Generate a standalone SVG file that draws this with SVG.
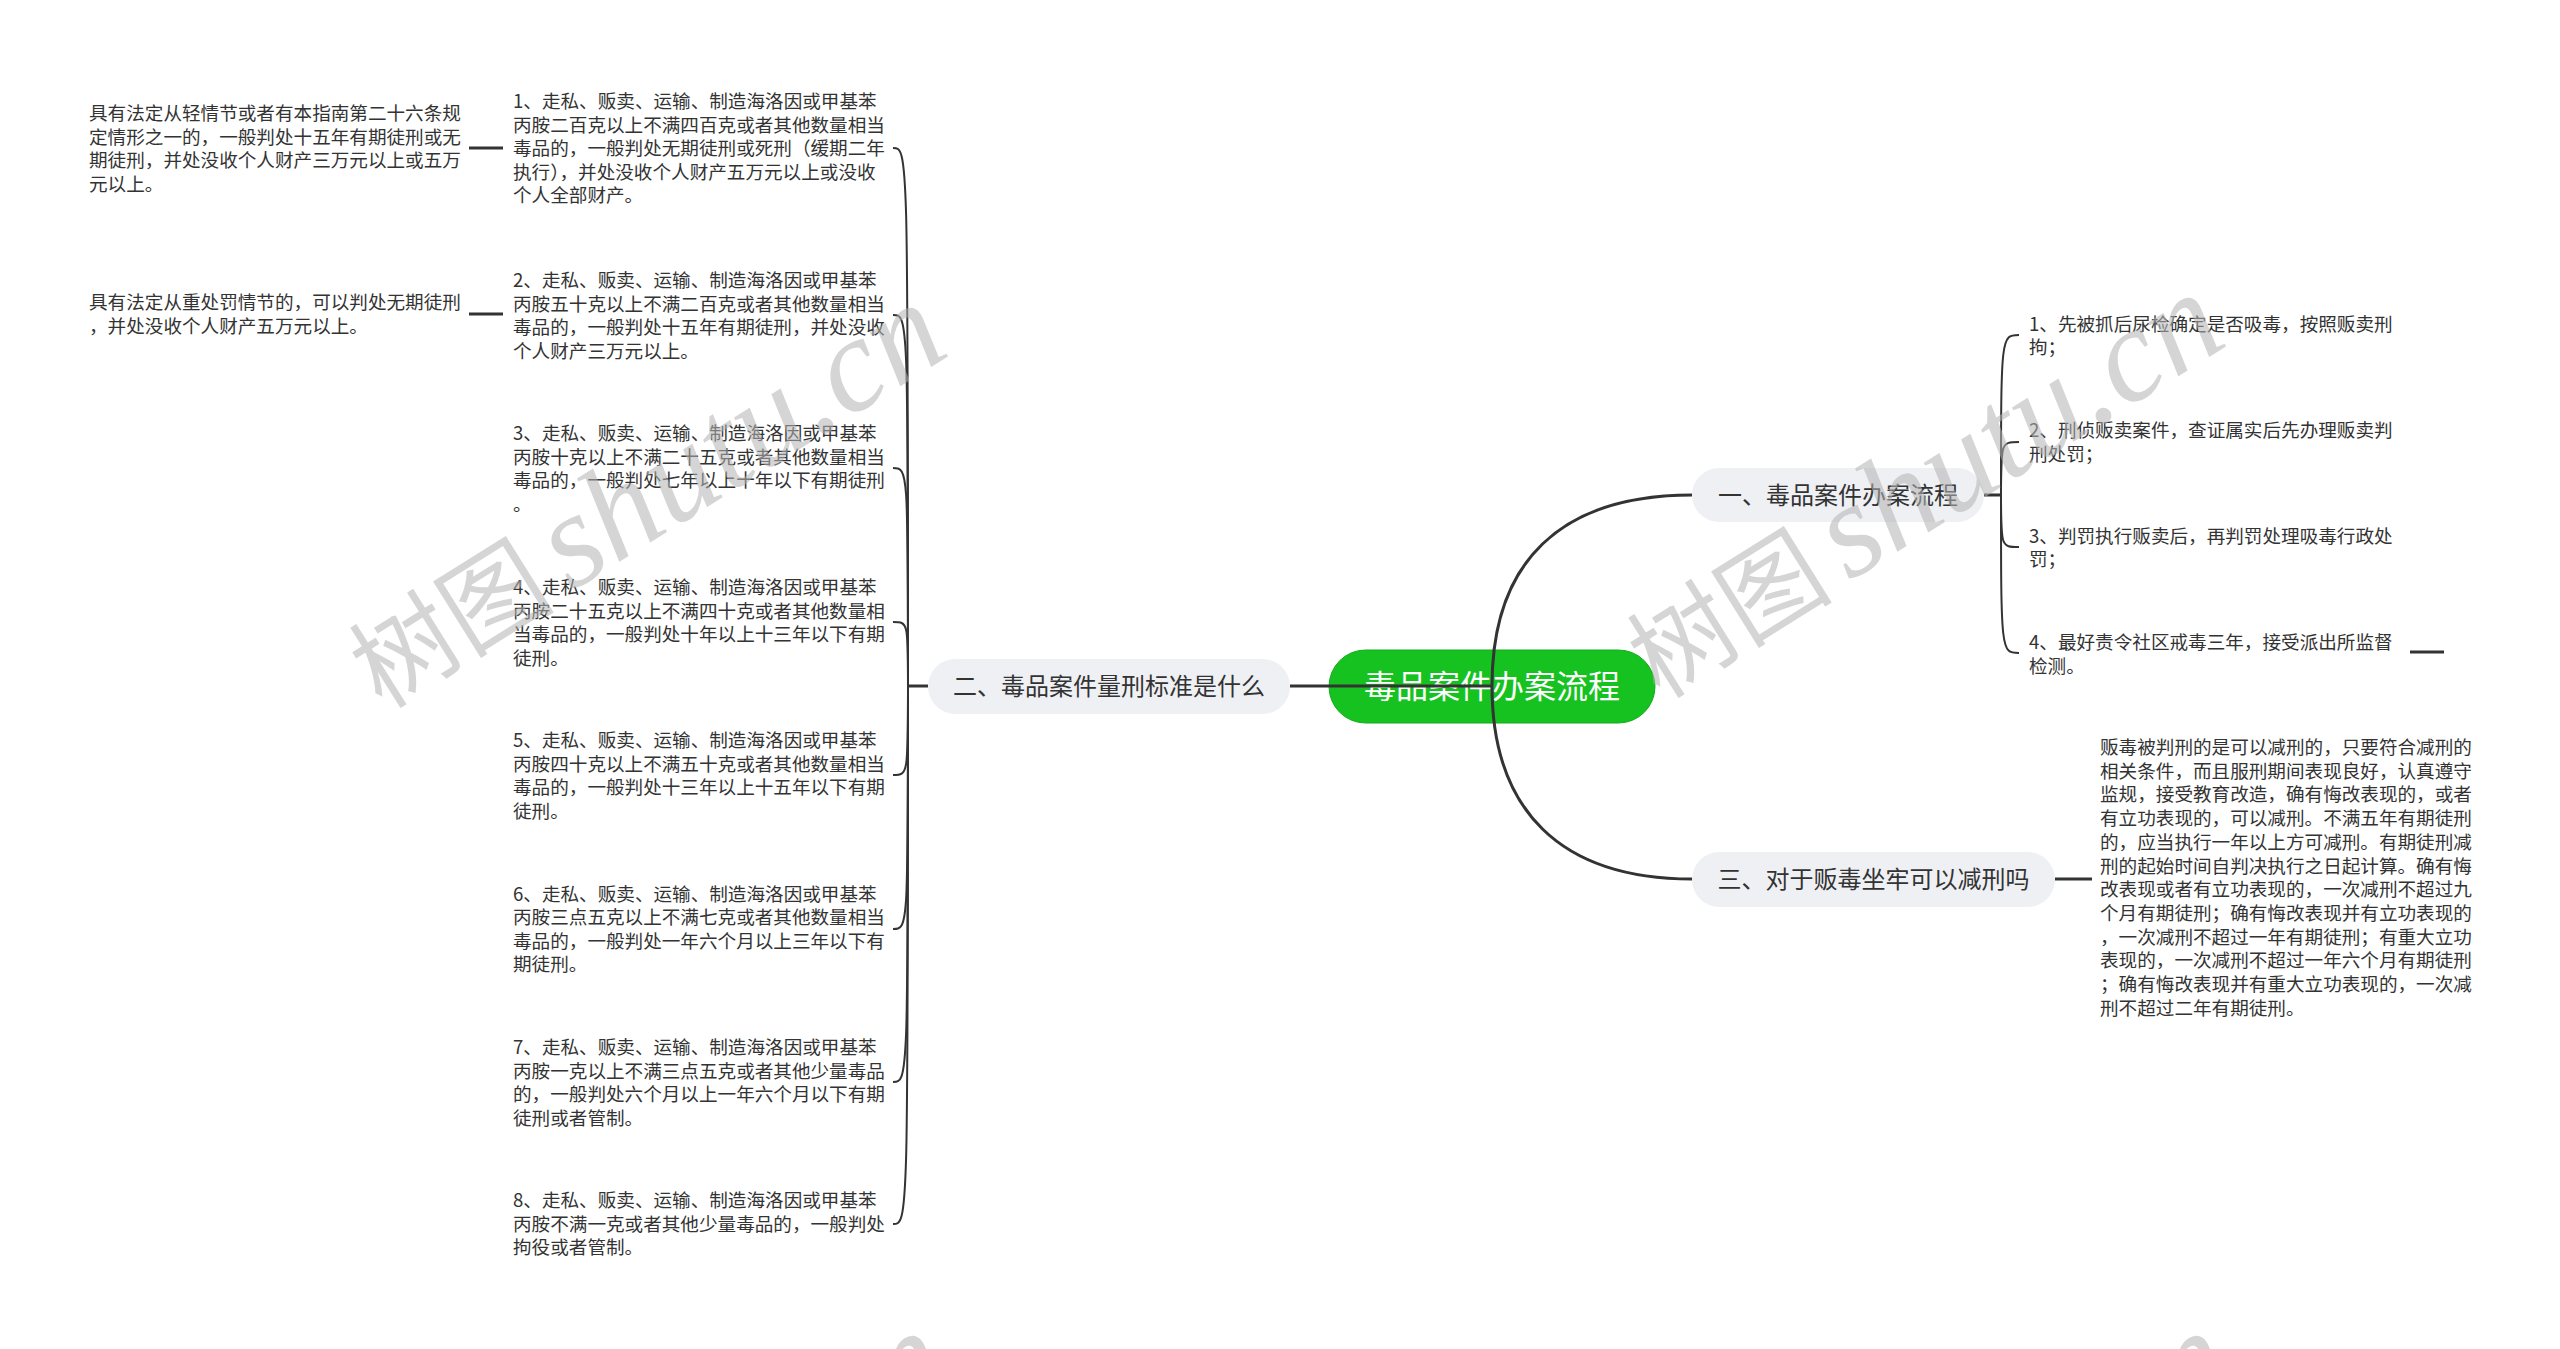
<svg xmlns="http://www.w3.org/2000/svg" width="2560" height="1349" viewBox="0 0 2560 1349">
<style>
text{font-family:"Noto Sans CJK SC","Noto Sans",sans-serif;fill:#333}
.t{font-size:18.6px}
.n{font-size:24px}
.r{font-size:32px;fill:#ffffff}
.sub{fill:#eef0f3}
.c{fill:none;stroke:#333;stroke-width:2}
.s{fill:none;stroke:#333;stroke-width:3}
.wm{fill:#b4b4b4;opacity:0.55}
.wm1{font-family:"Noto Sans CJK SC",sans-serif;font-size:103px}
.wm2{font-family:"Liberation Serif",serif;font-style:italic;font-size:134px}
</style>
<defs>
<g id="wmark"><text class="wm"><tspan class="wm1">树图</tspan><tspan class="wm2" dx="17">shutu.cn</tspan></text></g>
</defs>
<rect width="2560" height="1349" fill="#ffffff"/>

<g id="root">
<rect x="1329" y="650" width="326" height="73" rx="36.5" fill="#16c21f" stroke="#13ad1c" stroke-width="1"/>
<text class="r" x="1492" y="698" text-anchor="middle">毒品案件办案流程</text>
</g>

<g id="n1">
<rect class="sub" x="1692" y="468" width="292" height="54" rx="27"/>
<text class="n" x="1838" y="504" text-anchor="middle">一、毒品案件办案流程</text>
</g>
<g id="n2">
<rect class="sub" x="928" y="659" width="362" height="55" rx="27.5"/>
<text class="n" x="1109" y="695" text-anchor="middle">二、毒品案件量刑标准是什么</text>
</g>
<g id="n3">
<rect class="sub" x="1692" y="852" width="363" height="55" rx="27.5"/>
<text class="n" x="1873.5" y="888" text-anchor="middle">三、对于贩毒坐牢可以减刑吗</text>
</g>

<g id="n1-1"><text class="t" x="2029" y="330.5">1、先被抓后尿检确定是否吸毒，按照贩卖刑<tspan x="2029" dy="23.5">拘；</tspan></text></g>
<g id="n1-2"><text class="t" x="2029" y="437">2、刑侦贩卖案件，查证属实后先办理贩卖判<tspan x="2029" dy="23.5">刑处罚；</tspan></text></g>
<g id="n1-3"><text class="t" x="2029" y="542.5">3、判罚执行贩卖后，再判罚处理吸毒行政处<tspan x="2029" dy="23.5">罚；</tspan></text></g>
<g id="n1-4"><text class="t" x="2029" y="649">4、最好责令社区戒毒三年，接受派出所监督<tspan x="2029" dy="23.5">检测。</tspan></text></g>

<g id="n3-1"><text class="t" x="2100" y="754">贩毒被判刑的是可以减刑的，只要符合减刑的<tspan x="2100" dy="23.7">相关条件，而且服刑期间表现良好，认真遵守</tspan><tspan x="2100" dy="23.7">监规，接受教育改造，确有悔改表现的，或者</tspan><tspan x="2100" dy="23.7">有立功表现的，可以减刑。不满五年有期徒刑</tspan><tspan x="2100" dy="23.7">的，应当执行一年以上方可减刑。有期徒刑减</tspan><tspan x="2100" dy="23.7">刑的起始时间自判决执行之日起计算。确有悔</tspan><tspan x="2100" dy="23.7">改表现或者有立功表现的，一次减刑不超过九</tspan><tspan x="2100" dy="23.7">个月有期徒刑；确有悔改表现并有立功表现的</tspan><tspan x="2100" dy="23.7">，一次减刑不超过一年有期徒刑；有重大立功</tspan><tspan x="2100" dy="23.7">表现的，一次减刑不超过一年六个月有期徒刑</tspan><tspan x="2100" dy="23.7">；确有悔改表现并有重大立功表现的，一次减</tspan><tspan x="2100" dy="23.7">刑不超过二年有期徒刑。</tspan></text></g>

<g id="n2-1"><text class="t" x="513" y="108">1、走私、贩卖、运输、制造海洛因或甲基苯<tspan x="513" dy="23.5">丙胺二百克以上不满四百克或者其他数量相当</tspan><tspan x="513" dy="23.5">毒品的，一般判处无期徒刑或死刑（缓期二年</tspan><tspan x="513" dy="23.5">执行），并处没收个人财产五万元以上或没收</tspan><tspan x="513" dy="23.5">个人全部财产。</tspan></text></g>
<g id="n2-2"><text class="t" x="513" y="287">2、走私、贩卖、运输、制造海洛因或甲基苯<tspan x="513" dy="23.5">丙胺五十克以上不满二百克或者其他数量相当</tspan><tspan x="513" dy="23.5">毒品的，一般判处十五年有期徒刑，并处没收</tspan><tspan x="513" dy="23.5">个人财产三万元以上。</tspan></text></g>
<g id="n2-3"><text class="t" x="513" y="440">3、走私、贩卖、运输、制造海洛因或甲基苯<tspan x="513" dy="23.5">丙胺十克以上不满二十五克或者其他数量相当</tspan><tspan x="513" dy="23.5">毒品的，一般判处七年以上十年以下有期徒刑</tspan><tspan x="513" dy="23.5">。</tspan></text></g>
<g id="n2-4"><text class="t" x="513" y="594">4、走私、贩卖、运输、制造海洛因或甲基苯<tspan x="513" dy="23.5">丙胺二十五克以上不满四十克或者其他数量相</tspan><tspan x="513" dy="23.5">当毒品的，一般判处十年以上十三年以下有期</tspan><tspan x="513" dy="23.5">徒刑。</tspan></text></g>
<g id="n2-5"><text class="t" x="513" y="747">5、走私、贩卖、运输、制造海洛因或甲基苯<tspan x="513" dy="23.5">丙胺四十克以上不满五十克或者其他数量相当</tspan><tspan x="513" dy="23.5">毒品的，一般判处十三年以上十五年以下有期</tspan><tspan x="513" dy="23.5">徒刑。</tspan></text></g>
<g id="n2-6"><text class="t" x="513" y="900.5">6、走私、贩卖、运输、制造海洛因或甲基苯<tspan x="513" dy="23.5">丙胺三点五克以上不满七克或者其他数量相当</tspan><tspan x="513" dy="23.5">毒品的，一般判处一年六个月以上三年以下有</tspan><tspan x="513" dy="23.5">期徒刑。</tspan></text></g>
<g id="n2-7"><text class="t" x="513" y="1054">7、走私、贩卖、运输、制造海洛因或甲基苯<tspan x="513" dy="23.5">丙胺一克以上不满三点五克或者其他少量毒品</tspan><tspan x="513" dy="23.5">的，一般判处六个月以上一年六个月以下有期</tspan><tspan x="513" dy="23.5">徒刑或者管制。</tspan></text></g>
<g id="n2-8"><text class="t" x="513" y="1207">8、走私、贩卖、运输、制造海洛因或甲基苯<tspan x="513" dy="23.5">丙胺不满一克或者其他少量毒品的，一般判处</tspan><tspan x="513" dy="23.5">拘役或者管制。</tspan></text></g>

<g id="n2-1-1"><text class="t" x="89" y="120">具有法定从轻情节或者有本指南第二十六条规<tspan x="89" dy="23.5">定情形之一的，一般判处十五年有期徒刑或无</tspan><tspan x="89" dy="23.5">期徒刑，并处没收个人财产三万元以上或五万</tspan><tspan x="89" dy="23.5">元以上。</tspan></text></g>
<g id="n2-2-1"><text class="t" x="89" y="309">具有法定从重处罚情节的，可以判处无期徒刑<tspan x="89" dy="23.5">，并处没收个人财产五万元以上。</tspan></text></g>

<g id="connectors">
<path class="s" d="M1290,686 H1492"/>
<path class="s" d="M1492,686 C1492,562 1560,495 1692,495"/>
<path class="s" d="M1492,686 C1492,810 1560,879 1692,879"/>
<path class="s" d="M928,686 H908"/>
<path class="c" d="M908,686 C908,148 908,148 893,148"/>
<path class="c" d="M908,686 C908,315 908,315 893,315"/>
<path class="c" d="M908,686 C908,468 908,468 893,468"/>
<path class="c" d="M908,686 C908,622 908,622 893,622"/>
<path class="c" d="M908,686 C908,775 908,775 893,775"/>
<path class="c" d="M908,686 C908,929 908,929 893,929"/>
<path class="c" d="M908,686 C908,1082 908,1082 893,1082"/>
<path class="c" d="M908,686 C908,1224 908,1224 893,1224"/>
<path class="s" d="M503,148 H469"/>
<path class="s" d="M503,314 H469"/>
<path class="s" d="M1984,495 H2001"/>
<path class="c" d="M2001,495 C2001,335 2001,335 2019,335"/>
<path class="c" d="M2001,495 C2001,442 2001,442 2019,442"/>
<path class="c" d="M2001,495 C2001,547 2001,547 2019,547"/>
<path class="c" d="M2001,495 C2001,653 2001,653 2019,653"/>
<path class="s" d="M2410,652 H2444"/>
<path class="s" d="M2055,879 H2092"/>
</g>

<g id="watermarks">
<use href="#wmark" transform="translate(382,710) rotate(-32)"/>
<use href="#wmark" transform="translate(1660,700) rotate(-32)"/>
<use href="#wmark" transform="translate(384,1738) rotate(-32)"/>
<use href="#wmark" transform="translate(1668,1738) rotate(-32)"/>
</g>
</svg>
